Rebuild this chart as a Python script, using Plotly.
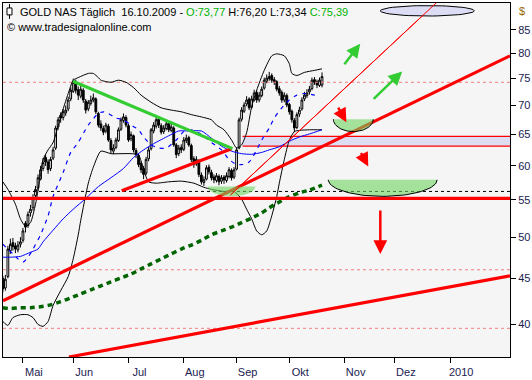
import math
import plotly.graph_objects as go

# ---------------- data ----------------
# bar index: 0 = first trading day of May 2009, one unit per trading day
bar_idx = list(range(-8, 120))

opens = [45.0, 43.9, 45.2, 48.3, 49.3, 48.9, 48.4, 49.1, 49.6, 51.8,
         51.5, 53.2, 53.9, 55.6, 56.7, 58.0, 59.6, 61.3, 60.6, 59.6,
         61.2, 62.8, 66.3, 68.3, 67.9, 68.7, 69.4, 71.2, 72.6, 74.1,
         72.9, 71.7, 72.8, 70.8, 69.4, 70.4, 71.0, 71.2, 68.6, 66.8,
         66.0, 65.6, 66.4, 64.0, 62.3, 62.9, 64.0, 65.9, 67.4, 67.9,
         66.5, 64.3, 64.8, 62.4, 61.6, 60.4, 59.6, 58.9, 61.1, 62.7,
         65.6, 66.4, 67.6, 66.5, 65.5, 66.0, 66.9, 65.7, 66.1, 63.3,
         61.9, 62.9, 62.6, 64.0, 64.5, 63.2, 61.1, 60.3, 60.8, 58.6,
         57.5, 58.0, 59.8, 59.0, 58.3, 57.8, 58.4, 57.7, 58.3, 57.8,
         58.4, 59.3, 58.3, 59.5, 62.8, 67.6, 69.0, 70.3, 71.2, 69.7,
         71.0, 72.4, 71.0, 71.8, 73.2, 74.5, 75.0, 75.6, 74.8, 74.4,
         73.1, 72.4, 71.0, 71.8, 70.2, 69.0, 67.4, 66.2, 68.5, 69.4,
         71.2, 71.8, 72.5, 73.1, 74.8, 74.4, 73.7, 73.77]
highs = [45.3, 45.4, 48.9, 49.8, 49.9, 49.3, 49.5, 50.0, 51.2, 52.1,
         53.4, 54.3, 55.8, 57.0, 58.7, 60.0, 61.2, 61.8, 61.0, 61.4,
         63.0, 66.5, 68.0, 68.8, 69.4, 70.0, 71.6, 73.3, 75.0, 74.8,
         73.5, 73.6, 73.2, 71.2, 71.0, 71.8, 72.2, 71.5, 68.9, 67.4,
         66.5, 67.0, 66.8, 64.4, 63.4, 64.5, 66.2, 67.9, 68.6, 68.3,
         66.8, 65.5, 65.0, 62.8, 62.0, 60.7, 60.0, 61.4, 63.0, 66.1,
         67.1, 68.0, 68.0, 66.9, 66.6, 67.3, 67.2, 66.8, 66.4, 63.6,
         63.3, 63.4, 64.6, 65.0, 64.8, 63.5, 61.5, 61.5, 61.0, 59.0,
         58.4, 60.1, 60.2, 59.4, 58.7, 58.9, 58.7, 58.6, 58.6, 59.0,
         59.8, 59.6, 59.8, 62.9, 67.9, 69.7, 70.6, 71.7, 71.5, 71.8,
         72.9, 72.8, 72.5, 73.5, 75.2, 75.8, 76.3, 76.0, 75.3, 74.7,
         73.6, 72.8, 72.4, 72.2, 70.5, 69.3, 67.8, 68.8, 69.8, 71.5,
         72.5, 73.0, 73.6, 75.2, 75.3, 74.8, 75.2, 76.20]
lows = [43.4, 43.6, 45.0, 47.9, 48.3, 48.0, 48.1, 48.7, 49.3, 50.6,
        51.2, 52.7, 53.5, 55.2, 56.3, 57.8, 59.2, 60.0, 58.8, 59.2,
        60.9, 62.5, 65.8, 67.0, 67.4, 68.2, 69.0, 70.8, 72.3, 72.2,
        71.0, 71.3, 70.5, 68.6, 69.0, 70.0, 70.6, 68.5, 66.2, 65.6,
        64.9, 65.2, 63.8, 62.0, 61.8, 62.6, 63.8, 65.6, 67.0, 66.2,
        63.8, 63.9, 62.1, 61.2, 59.8, 58.9, 58.0, 58.6, 60.7, 62.4,
        65.2, 66.0, 66.1, 65.0, 65.1, 65.7, 65.4, 65.4, 63.0, 61.2,
        61.5, 62.0, 62.3, 63.6, 63.0, 60.6, 59.7, 60.0, 58.3, 57.2,
        57.0, 57.8, 58.7, 57.8, 57.4, 57.5, 57.1, 57.3, 57.3, 57.5,
        58.1, 57.8, 58.0, 59.3, 62.6, 67.2, 68.7, 69.9, 69.2, 69.4,
        70.7, 70.5, 70.6, 71.5, 72.9, 74.1, 74.6, 74.2, 73.8, 72.6,
        71.8, 70.5, 70.6, 69.7, 68.4, 67.0, 65.4, 65.9, 68.0, 69.1,
        70.8, 71.4, 72.0, 72.8, 73.8, 73.2, 73.4, 73.34]
closes = [43.8, 44.9, 48.5, 49.1, 48.8, 48.5, 49.0, 49.4, 50.8, 51.3,
          53.0, 53.7, 55.3, 56.5, 58.2, 59.4, 60.5, 60.6, 59.4, 61.0,
          62.5, 66.1, 67.5, 67.8, 68.9, 69.2, 71.0, 72.8, 74.3, 72.8,
          71.9, 73.0, 71.0, 69.2, 70.6, 71.0, 71.4, 68.9, 66.6, 66.1,
          65.4, 66.6, 64.1, 62.5, 62.8, 64.1, 65.8, 67.5, 68.0, 66.6,
          64.1, 65.0, 62.5, 61.75, 60.2, 59.4, 58.7, 61.0, 62.5, 65.8,
          66.6, 67.5, 66.6, 65.4, 66.1, 66.8, 65.8, 66.3, 63.3, 61.75,
          62.8, 62.5, 64.1, 64.4, 63.3, 61.0, 60.2, 61.0, 58.7, 57.6,
          57.9, 59.7, 59.1, 58.2, 57.9, 58.5, 57.6, 58.2, 57.9, 58.5,
          59.4, 58.2, 59.4, 62.5, 67.5, 69.2, 70.1, 71.0, 69.6, 71.2,
          72.3, 71.0, 71.9, 73.0, 74.7, 75.1, 75.4, 74.7, 74.3, 73.0,
          72.3, 71.0, 71.9, 70.1, 68.9, 67.5, 66.1, 68.4, 69.2, 71.0,
          71.9, 72.3, 73.0, 74.7, 74.3, 73.8, 74.7, 75.39]

# Bollinger bands
bb_up_x = [-8, -6, -3, -1, 1, 3, 5, 7, 8, 10, 12, 15, 18, 20, 22, 26, 28, 30, 31, 35,
           38, 41, 44, 47, 51, 55, 59, 63, 67, 71, 75, 77, 80, 83, 85, 87, 89, 91, 93, 96,
           99, 101, 104, 106, 107, 109, 112, 116, 119]
bb_up_y = [57.6, 56.5, 54.4, 52.4, 51.4, 51.9, 54.4, 58.7, 61.0, 62.5, 63.7, 68.0, 72.2, 74.7, 75.2,
           76.0, 76.0, 75.2, 74.7, 74.3, 74.7, 74.3, 73.3, 71.9, 70.6, 69.6, 69.2, 68.9, 68.4, 68.0,
           67.5, 66.6, 65.8, 64.1, 62.8, 63.3, 65.3, 69.8, 72.8, 76.6, 79.5, 79.9, 79.5, 77.9, 76.0,
           75.6, 76.2, 76.6, 76.9]
bb_lo_x = [-8, -6, -4, -1, 2, 4, 6, 8, 10, 12, 15, 18, 20, 22, 23, 26, 28, 31, 35, 39,
           43, 46, 48, 50, 53, 58, 63, 68, 72, 75, 80, 84, 87, 89, 91, 93, 95, 97, 99, 101,
           102, 104, 106, 108, 110, 114, 119]
bb_lo_y = [40.3, 39.9, 40.7, 41.0, 41.0, 40.7, 40.0, 39.8, 40.3, 42.0, 43.6, 45.2, 47.3, 50.3, 52.2,
           57.4, 59.8, 62.3, 61.9, 61.9, 61.9, 61.7, 59.4, 57.6, 57.4, 57.6, 57.7, 57.4, 56.8, 56.5,
           56.2, 56.2, 55.1, 53.7, 52.4, 50.8, 50.3, 50.8, 52.8, 55.5, 57.4, 61.0, 64.1, 65.5, 65.7,
           65.8, 65.8]
# short moving average (blue dashed)
ma_s_x = [-8, -6, -4, -2, 0, 2, 4, 7, 10, 12, 16, 19, 22, 26, 30, 32, 34, 37, 40, 43,
          46, 48, 51, 54, 57, 61, 64, 67, 70, 73, 75, 79, 82, 85, 87, 90, 93, 95, 98, 100,
          103, 106, 109, 112, 116, 118]
ma_s_y = [49.1, 48.5, 47.9, 47.3, 46.9, 47.5, 48.5, 50.3, 52.8, 55.5, 59.0, 62.1, 63.7, 66.6, 68.6,
          68.9, 68.6, 67.8, 67.5, 66.6, 65.8, 64.6, 63.3, 62.8, 62.8, 64.1, 65.5, 65.8, 65.3, 64.4,
          63.7, 62.5, 61.0, 60.2, 60.2, 60.6, 62.5, 64.1, 66.1, 67.8, 69.6, 71.0, 71.9, 72.2, 71.9,
          71.6]
# 50 day average (blue solid)
ma_m_x = [-8, -5, -1, 3, 6, 8, 12, 16, 20, 25, 30, 35, 40, 44, 48, 52, 58, 62, 66, 71,
          75, 79, 83, 87, 91, 95, 98, 102, 106, 110, 114, 119]
ma_m_y = [47.5, 47.5, 47.6, 48.1, 48.5, 49.4, 50.9, 52.4, 53.7, 55.2, 56.9, 58.2, 59.6, 61.3, 62.5,
          63.5, 64.8, 65.6, 65.6, 65.6, 64.4, 63.1, 62.3, 61.9, 61.8, 62.1, 62.5, 63.0, 63.9, 64.6,
          65.1, 65.8]
# 200 day average (green dotted)
ma_l_x = [-8, -5, -1, 3, 7, 11, 15, 19, 23, 27, 31, 35, 39, 43, 47, 51, 55, 59, 63, 67,
          71, 75, 79, 83, 87, 91, 95, 98, 102, 106, 110, 114, 119]
ma_l_y = [41.75, 41.65, 41.75, 41.75, 41.85, 42.05, 42.4, 42.8, 43.25, 43.7, 44.15, 44.6, 45.05, 45.5,
          46.1, 46.7, 47.3, 47.9, 48.5, 49.0, 49.6, 50.3, 50.8, 51.3, 51.9, 52.5, 53.2, 53.9, 54.7,
          55.45, 56.0, 56.4, 57.1]

# drawn trend lines (index, price)
up_trend_x, up_trend_y = [-7.94, 193.8], [42.5, 79.5]
low_trend_x, low_trend_y = [18.3, 193.8], [36.8, 45.3]
jul_trend_x, jul_trend_y = [39.3, 83.0], [56.3, 62.7]
res_line_x, res_line_y = [19.9, 83.4], [74.5, 62.7]
steep_x, steep_y = [82.6, 164.4], [55.7, 91.0]
support_level = 55.2
dotted_level = 56.2
zone_lo, zone_hi, zone_start = 63.1, 64.7, 87.4
pink_levels = [74.3, 46.0, 39.6]

month_ticks = [0, 20, 42, 64, 85, 106, 128, 148, 170]
month_text = ["Mai", "Jun", "Jul", "Aug", "Sep", "Okt", "Nov", "Dez", "2010"]
price_ticks = [40, 45, 50, 55, 60, 65, 70, 75, 80, 85]

X0, X1 = -7.94, 193.8
Y0, Y1 = 36.8, 91.0

# ---------------- figure ----------------
fig = go.Figure()
L10 = math.log10

def hline(level, color, width, dash="solid", x0=X0, x1=X1):
    fig.add_trace(go.Scatter(x=[x0, x1], y=[level, level], mode="lines",
                             line=dict(color=color, width=width, dash=dash),
                             hoverinfo="skip", showlegend=False))

for lv in pink_levels:
    hline(lv, "#F08080", 1, "dot")
hline(dotted_level, "black", 1, "dot")

# zone band
fig.add_trace(go.Scatter(x=[zone_start, X1, X1, zone_start], y=[zone_lo, zone_lo, zone_hi, zone_hi],
                         fill="toself", fillcolor="#DCDCF2", mode="lines",
                         line=dict(width=0), hoverinfo="skip", showlegend=False))
hline(zone_lo, "red", 1.2, x0=zone_start)
hline(zone_hi, "red", 1.2, x0=zone_start)

fig.add_trace(go.Candlestick(x=bar_idx, open=opens, high=highs, low=lows, close=closes,
                             increasing=dict(line=dict(color="black", width=1), fillcolor="white"),
                             decreasing=dict(line=dict(color="black", width=1), fillcolor="black"),
                             whiskerwidth=0, hoverinfo="skip", showlegend=False))

def curve(xs, ys, color, width, dash="solid"):
    fig.add_trace(go.Scatter(x=xs, y=ys, mode="lines", line=dict(color=color, width=width, dash=dash, shape="spline", smoothing=0.6),
                             hoverinfo="skip", showlegend=False))

curve(bb_up_x, bb_up_y, "black", 1)
curve(bb_lo_x, bb_lo_y, "black", 1)
curve(ma_m_x, ma_m_y, "#0000FF", 1)
curve(ma_s_x, ma_s_y, "#0000FF", 1.2, "4px,5px")
curve(ma_l_x, ma_l_y, "#006400", 3.5, "5px,4px")

def seg(xs, ys, color, width):
    fig.add_trace(go.Scatter(x=xs, y=ys, mode="lines", line=dict(color=color, width=width),
                             hoverinfo="skip", showlegend=False))

hline(support_level, "#FF0000", 3.2)
seg(up_trend_x, up_trend_y, "#FF0000", 3.2)
seg(low_trend_x, low_trend_y, "#FF0000", 3.2)
seg(jul_trend_x, jul_trend_y, "#FF0000", 3.2)
seg(res_line_x, res_line_y, "#33CC33", 3.2)
seg(steep_x, steep_y, "#FF0000", 1)

# bowls (half ellipses) in index / log-price space
def bowl(x0, x1, ytop, ybot, outline=True):
    n = 48
    xc, a = (x0 + x1) / 2, (x1 - x0) / 2
    lt, d = L10(ytop), L10(ytop) - L10(ybot)
    xs = [xc + a * math.cos(math.pi * k / n) for k in range(n + 1)]
    ys = [10 ** (lt - d * math.sin(math.pi * k / n)) for k in range(n + 1)]
    fig.add_trace(go.Scatter(x=xs, y=ys, fill="toself", fillcolor="rgba(110,214,96,0.6)",
                             mode="lines", line=dict(color="black" if outline else "rgba(0,0,0,0)", width=1),
                             hoverinfo="skip", showlegend=False))

bowl(73.5, 92.5, 56.9, 55.5, outline=False)
bowl(123.5, 139.4, 67.6, 65.5)
bowl(121.5, 164.8, 57.9, 55.5)

# lavender ellipse at top
n = 60
exs = [160.9 + 18.7 * math.cos(2 * math.pi * k / n) for k in range(n + 1)]
eys = [10 ** (L10(89.2) + 0.0058 * math.sin(2 * math.pi * k / n)) for k in range(n + 1)]
fig.add_trace(go.Scatter(x=exs, y=eys, fill="toself", fillcolor="#DCDCF5", mode="lines",
                         line=dict(color="black", width=1), hoverinfo="skip", showlegend=False))
# steep thin line drawn over ellipse
seg(steep_x, steep_y, "#FF0000", 1)

# arrows: (head index, head price, tail dx px, tail dy px, colour)
arrows = [(134.2, 82.0, -17, 22, "#33CC33"), (150.9, 76.4, -30, 29, "#33CC33"),
          (128.7, 67.1, -9, -16, "#FF0000"), (137.4, 59.9, -8, -15, "#FF0000"),
          (142.2, 47.9, 0, -45, "#FF0000")]
for hx, hy, dx, dy, col in arrows:
    fig.add_annotation(x=hx, y=L10(hy), ax=dx, ay=dy, xref="x", yref="y", text="",
                       showarrow=True, arrowhead=2, arrowsize=1.1, arrowwidth=2.5, arrowcolor=col)

# header texts
def px2paper(px, py):
    return (px - 2) / 508, 1 - (py - 2) / 357

tx, ty = px2paper(17, 11)
fig.add_annotation(x=tx, y=ty, xref="paper", yref="paper", xanchor="left", yanchor="middle", showarrow=False,
                   text="GOLD NAS Täglich  16.10.2009 - <span style='color:#00B400'>O:73,77</span> H:76,20 L:73,34 <span style='color:#00B400'>C:75,39</span>",
                   font=dict(family="Liberation Sans", size=11, color="black"))
tx, ty = px2paper(4, 26)
fig.add_annotation(x=tx, y=ty, xref="paper", yref="paper", xanchor="left", yanchor="middle", showarrow=False,
                   text="© www.tradesignalonline.com", font=dict(family="Liberation Sans", size=11, color="black"))
tx, ty = px2paper(517, 10)
fig.add_annotation(x=tx, y=ty, xref="paper", yref="paper", xanchor="left", yanchor="middle", showarrow=False,
                   text="$", font=dict(family="Liberation Sans", size=11, color="#996600"))
# small candle icon
a0 = px2paper(8.5, 3); a1 = px2paper(8.5, 18)
fig.add_shape(type="line", xref="paper", yref="paper", x0=a0[0], y0=a0[1], x1=a1[0], y1=a1[1], line=dict(color="black", width=1))
b0 = px2paper(6, 7); b1 = px2paper(11, 14)
fig.add_shape(type="rect", xref="paper", yref="paper", x0=b0[0], y0=b0[1], x1=b1[0], y1=b1[1],
              line=dict(color="black", width=1), fillcolor="white")

fig.update_layout(
    width=532, height=380, margin=dict(l=2, r=22, t=2, b=21),
    paper_bgcolor="white", plot_bgcolor="#F5F5F5", showlegend=False, boxgap=0.0,
    xaxis=dict(range=[X0, X1], showgrid=False, zeroline=False, showline=True, linecolor="black", mirror=True,
               tickvals=month_ticks, ticktext=month_text, ticks="outside", ticklen=5, tickcolor="black",
               ticklabelshift=11, tickfont=dict(family="Liberation Sans", size=11, color="#1A1A50"),
               rangeslider=dict(visible=False), fixedrange=True),
    yaxis=dict(type="log", range=[L10(Y0), L10(Y1)], side="right", showgrid=False, zeroline=False,
               showline=True, linecolor="black", mirror=True, tickvals=price_ticks,
               ticktext=[str(v) for v in price_ticks], ticks="outside", ticklen=5, tickcolor="black",
               tickfont=dict(family="Liberation Sans", size=11, color="#1A1A50"), fixedrange=True),
)

fig.write_html("out.html", config={"displayModeBar": False},
               post_script="document.body.style.margin='0';document.body.style.overflow='hidden';")
